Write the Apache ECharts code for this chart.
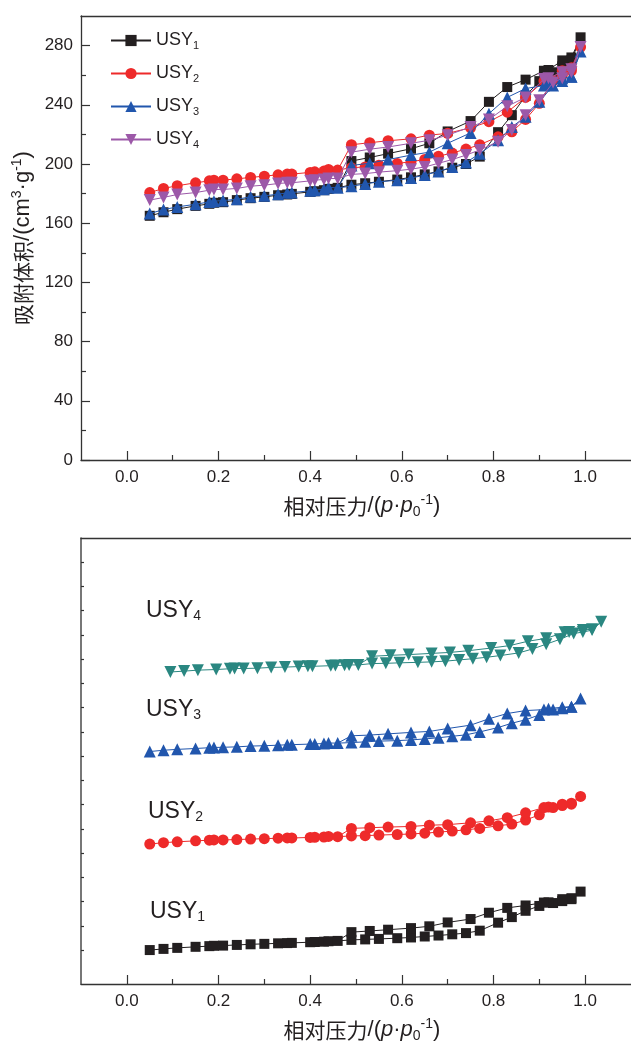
<!DOCTYPE html>
<html><head><meta charset="utf-8">
<script src="https://cdn.jsdelivr.net/npm/echarts@6/dist/echarts.min.js"></script>
<style>html,body{margin:0;padding:0;background:#fff}#c{width:631px;height:1048px}</style>
</head><body><div id="c"></div><script>
// relative pressures
const P_LOW = [0.05,0.08,0.11,0.15,0.18,0.19,0.21,0.24,0.27,0.30,0.33,0.35,0.36,0.40,0.41,0.43,0.44,0.46];
const P_ADS = [0.49,0.52,0.55,0.59,0.62,0.65,0.68,0.71,0.74,0.77,0.81,0.84,0.87,0.90,0.93,0.95,0.97,0.99];
const P_DES = [0.97,0.95,0.92,0.91,0.87,0.83,0.79,0.75,0.70,0.66,0.62,0.57,0.53,0.49];
// USY1
const USY1_LOW = [165,167.4,169.5,171.7,173.1,173.8,174.2,175.6,176.9,177.8,178.9,179.4,179.8,181.2,181.6,182.3,183.2,183.9];
const USY1_ADS = [186,187,188,189.5,191,193,195,197.5,200,205,221.5,233,246,256,262,266,270,285.6];
const USY1_DES = [272,270,263.5,263,257,252,242,229,222,214,210.3,207,204.4,202];
// USY2
const USY2_LOW = [180.7,183.5,185.3,187.3,188.6,189.1,189.1,190.0,190.9,191.8,192.7,193.2,193.2,194.3,194.7,195.2,196.3,195.9];
const USY2_ADS = [197.5,198,199.2,200.4,201.5,203.1,205.3,207.4,210.1,213,218.4,221.8,230.1,241,256,260,263,279];
const USY2_DES = [265,263,257,256,245,235,228.6,224.5,220.7,219.5,217,215.7,214.4,213];
// USY3
const USY3_LOW = [166.5,169.2,171.0,172.8,174.4,174.9,175.3,176.2,177.8,178.5,179.6,180.5,180.7,181.9,182.3,183.0,184.1,183.9];
const USY3_ADS = [185,186.5,188,189,190.5,192.5,195,198,201,207,216,225,232,242,253,256,259,276];
const USY3_DES = [259,258,255,253,251,245,234,221,214,208,206,203,200.5,199];
// USY4
const USY4_LOW = [175.6,177.4,179.4,180.7,182.3,182.8,182.8,183.5,185.0,185.7,186.8,187.3,187.3,188.6,189.1,189.5,190.2,190.2];
const USY4_ADS = [193,193.5,194.5,195.5,196.5,198,200.5,203,206,209.5,215,223,233,243,255,258,262,279];
const USY4_DES = [264,262,258,257.5,245,239,230,225,219.5,216,214,211.5,210,208];
// stacked (lower panel) offsets
const BOTTOM_OFFSET = [-95, 108, 313, 468];
const BOTTOM_SHIFT_X = [0, 0, 0, 0.045];
const NAMES = ['USY1','USY2','USY3','USY4'];
// ticks
const X_LABELS = [0,0.2,0.4,0.6,0.8,1.0];
const X_MINOR = [0.1,0.3,0.5,0.7,0.9];
const Y_TICKS = [0,40,80,120,160,200,240,280];
const Y_MINOR = [20,60,100,140,180,220,260];
const Y2_TICKS = [70,120,170,220,270,320,370,420,470,520,570,620,670,720,770,820,870];

const FONT = '"Liberation Sans", Arial, "Noto Sans CJK SC", sans-serif';
const CJK = '"Noto Sans CJK SC", sans-serif';
const TXT = '#231f20';
const AX = '#333';
const COLORS_TOP = ['#231f20','#ee2a2a','#2156ad','#9c58a8'];
const COLORS_BOT = ['#231f20','#ee2a2a','#2156ad','#2a8781'];
const SYMBOLS = ['rect','circle','triangle','triangle'];
const SIZES = [10,11,12,12];
const ROT = [0,0,0,180];
const SETS = [[USY1_LOW,USY1_ADS,USY1_DES],[USY2_LOW,USY2_ADS,USY2_DES],[USY3_LOW,USY3_ADS,USY3_DES],[USY4_LOW,USY4_ADS,USY4_DES]];

function build(set, dx, dy) {
  const [low, ads, des] = set;
  const pts = [];
  P_LOW.forEach((x,i)=>pts.push([x+dx, low[i]+dy]));
  P_ADS.forEach((x,i)=>pts.push([x+dx, ads[i]+dy]));
  P_DES.forEach((x,i)=>pts.push([x+dx, des[i]+dy]));
  pts.push({value:[P_LOW[P_LOW.length-1]+dx, low[low.length-1]+dy], symbol:'none'});
  return pts;
}

const nameRich = {
  c:{fontSize:21, fontFamily:CJK, color:TXT, lineHeight:26},
  a:{fontSize:22, fontFamily:FONT, color:TXT, lineHeight:26},
  i:{fontSize:22, fontFamily:FONT, color:TXT, fontStyle:'italic', lineHeight:26},
  sub:{fontSize:14, fontFamily:FONT, color:TXT, verticalAlign:'bottom', lineHeight:26},
  sup:{fontSize:14, fontFamily:FONT, color:TXT, verticalAlign:'top', lineHeight:26}
};
const XNAME = '{c|相对压力}{a|/(}{i|p}{a|·}{i|p}{sub|0}{sup|-1}{a|)}';
const YNAME = '{c|吸附体积}{a|/(cm}{sup|3}{a|·g}{sup|-1}{a|)}';

function xAxes(gi) {
  return [
    {gridIndex:gi, type:'value', min:-0.1, max:1.1, position:'bottom',
     axisLine:{show:true, onZero:false, lineStyle:{color:AX, width:1.3}},
     axisTick:{show:true, inside:true, length:9, customValues:X_LABELS, lineStyle:{color:AX, width:1.2}},
     axisLabel:{show:true, customValues:X_LABELS, formatter:v=>v.toFixed(1), fontSize:17, fontFamily:FONT, color:TXT, margin:9},
     splitLine:{show:false},
     name:XNAME, nameLocation:'middle', nameGap:33, nameTextStyle:{rich:nameRich, padding:[0,0,0,12]}},
    {gridIndex:gi, type:'value', min:-0.1, max:1.1, position:'bottom',
     axisLine:{show:false, onZero:false},
     axisTick:{show:true, inside:true, length:5, customValues:X_MINOR, lineStyle:{color:AX, width:1.2}},
     axisLabel:{show:false}, splitLine:{show:false}},
    {gridIndex:gi, type:'value', min:-0.1, max:1.1, position:'top',
     axisLine:{show:true, onZero:false, lineStyle:{color:AX, width:1.3}},
     axisTick:{show:false}, axisLabel:{show:false}, splitLine:{show:false}}
  ];
}

const option = {
  animation:false,
  backgroundColor:'#fff',
  grid:[
    {left:81, top:16, width:553, height:444},
    {left:81, top:538, width:553, height:446}
  ],
  xAxis:[...xAxes(0), ...xAxes(1)],
  yAxis:[
    {gridIndex:0, type:'value', min:0, max:300, position:'left',
     axisLine:{show:true, onZero:false, lineStyle:{color:AX, width:1.3}},
     axisTick:{show:true, inside:true, length:9, customValues:Y_TICKS, lineStyle:{color:AX, width:1.2}},
     axisLabel:{show:true, customValues:Y_TICKS, fontSize:17, fontFamily:FONT, color:TXT, margin:8},
     splitLine:{show:false},
     name:YNAME, nameLocation:'middle', nameGap:43, nameTextStyle:{rich:nameRich}},
    {gridIndex:0, type:'value', min:0, max:300, position:'left',
     axisLine:{show:false, onZero:false},
     axisTick:{show:true, inside:true, length:5, customValues:Y_MINOR, lineStyle:{color:AX, width:1.2}},
     axisLabel:{show:false}, splitLine:{show:false}},
    {gridIndex:1, type:'value', min:0, max:920, position:'left',
     axisLine:{show:true, onZero:false, lineStyle:{color:'#555', width:1.6}},
     axisTick:{show:true, inside:true, length:3, customValues:Y2_TICKS, lineStyle:{color:AX, width:1.2}},
     axisLabel:{show:false}, splitLine:{show:false}}
  ],
  legend:{
    data:NAMES, orient:'vertical', left:105, top:25, itemWidth:40, itemHeight:14, itemGap:12,
    formatter:n=>'{a|USY}{s|'+n.slice(3)+'}',
    textStyle:{fontSize:18, fontFamily:FONT, color:TXT, lineHeight:21,
      rich:{a:{fontSize:18, fontFamily:FONT, color:TXT, lineHeight:21},
            s:{fontSize:11, fontFamily:FONT, color:TXT, verticalAlign:'bottom', lineHeight:21}}}
  },
  graphic: NAMES.map((n,i)=>({
    type:'text', left:[150,148,146,146][i], top:[900,800,698,599][i],
    style:{text:'{a|USY}{s|'+n.slice(3)+'}', rich:{
      a:{fontSize:23, fontFamily:FONT, fill:TXT, lineHeight:26},
      s:{fontSize:14, fontFamily:FONT, fill:TXT, verticalAlign:'bottom', lineHeight:26}}}
  })),
  series:[
    ...NAMES.map((n,i)=>({
      name:n, type:'line', xAxisIndex:0, yAxisIndex:0,
      data:build(SETS[i],0,0),
      symbol:SYMBOLS[i], symbolSize:SIZES[i], symbolRotate:ROT[i],
      lineStyle:{color:COLORS_TOP[i], width:1}, itemStyle:{color:COLORS_TOP[i]}, z:2+i
    })),
    ...NAMES.map((n,i)=>({
      name:'b'+n, type:'line', xAxisIndex:3, yAxisIndex:2,
      data:build(SETS[i],BOTTOM_SHIFT_X[i],BOTTOM_OFFSET[i]),
      symbol:SYMBOLS[i], symbolSize:SIZES[i], symbolRotate:ROT[i],
      lineStyle:{color:COLORS_BOT[i], width:1}, itemStyle:{color:COLORS_BOT[i]}, z:2+i
    }))
  ]
};
const chart = echarts.init(document.getElementById('c'), null, {renderer:'canvas'});
chart.setOption(option);
</script></body></html>
